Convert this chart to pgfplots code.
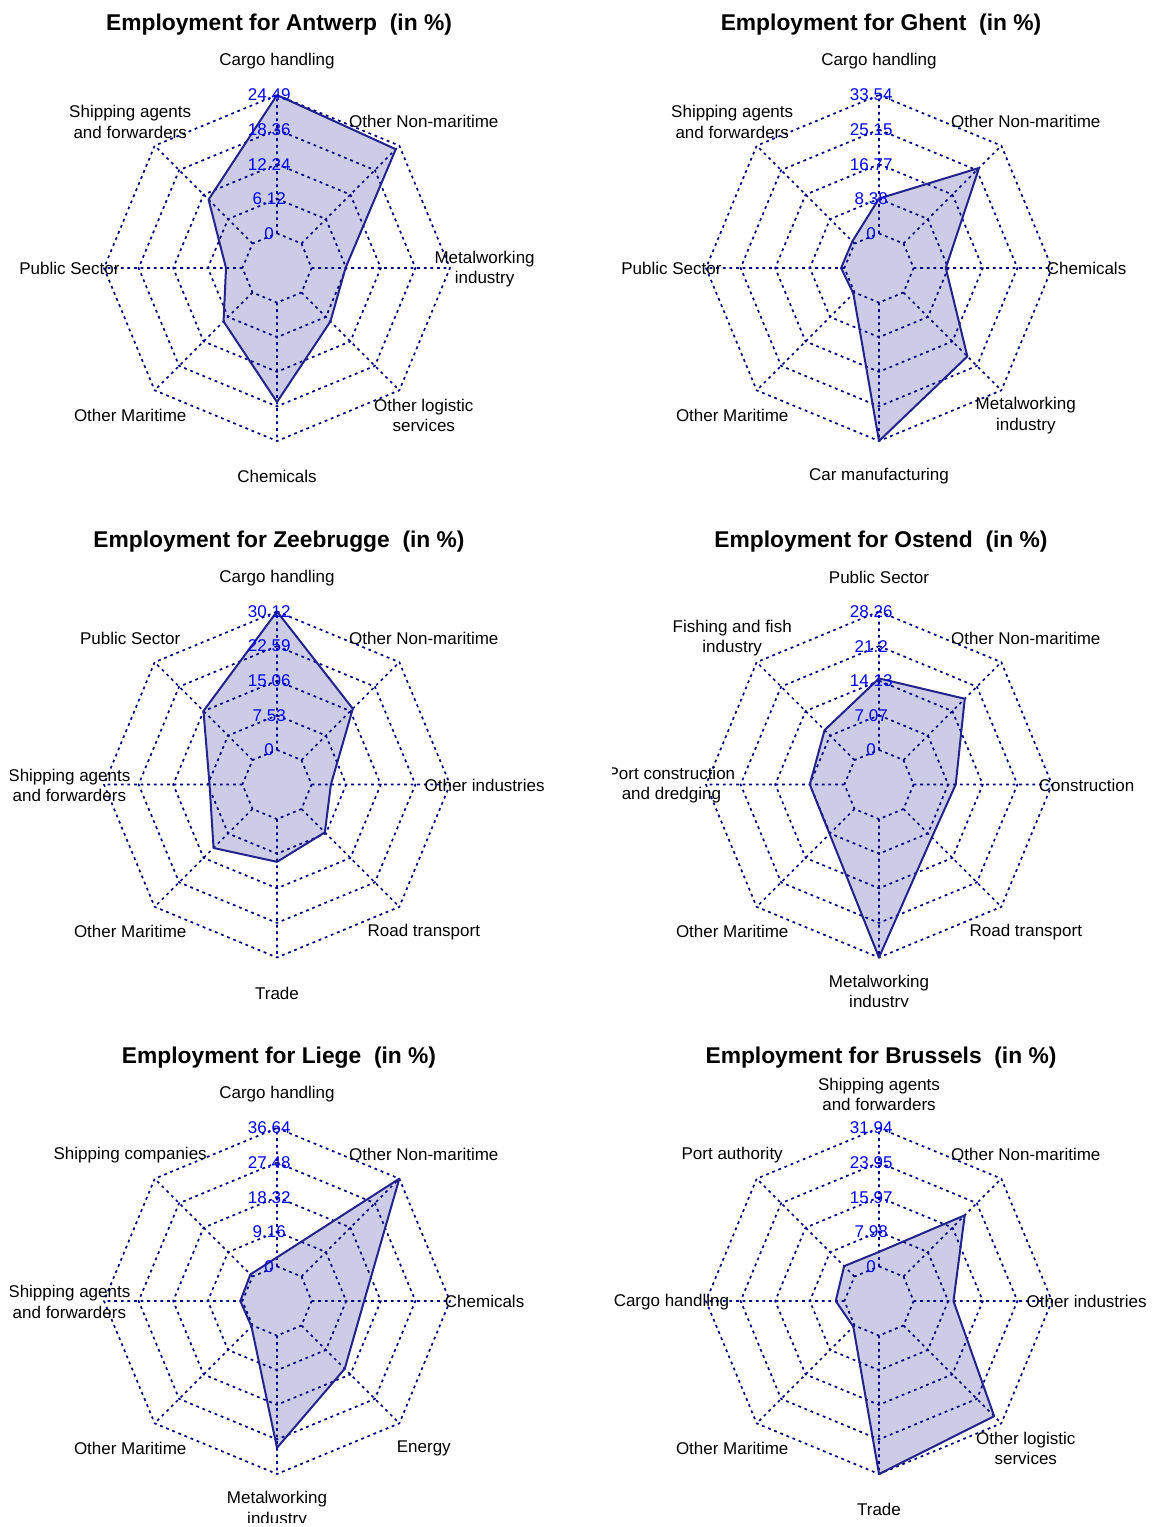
\documentclass[border=0pt]{standalone}
\usepackage{pgfplots}
\pgfplotsset{compat=1.18}
\usepackage{pgfplotstable}
\usepackage{fontspec}
\setmainfont{Liberation Sans}
\usetikzlibrary{calc}
\definecolor{gridc}{RGB}{0,0,128}
\definecolor{polyc}{RGB}{35,35,140}
\definecolor{fillc}{RGB}{204,204,230}
\definecolor{labc}{RGB}{0,0,255}

\pgfplotstableread{
x y
0 1
0.707107 0.707107
1 0
0.707107 -0.707107
0 -1
-0.707107 -0.707107
-1 0
-0.707107 0.707107
0 1
}\octo

\pgfplotstableread{
x y
0 0.2
0 1
nan nan
0.141421 0.141421
0.707107 0.707107
nan nan
0.2 0
1 0
nan nan
0.141421 -0.141421
0.707107 -0.707107
nan nan
0 -0.2
0 -1
nan nan
-0.141421 -0.141421
-0.707107 -0.707107
nan nan
-0.2 0
-1 0
nan nan
-0.141421 0.141421
-0.707107 0.707107
}\spokes

% angle (deg), value
\pgfplotstableread{
ang v
90 24.49
45 23.6
0 6.0
-45 7.25
-90 17.6
-135 7.25
180 2.9
135 11.0
90 24.49
}\antwerp
\pgfplotstableread{
ang v
90 8.45
45 25.9
0 7.8
-45 21.9
-90 33.54
-135 0.4
180 0.8
135 0.75
90 8.45
}\ghent
\pgfplotstableread{
ang v
90 30.12
45 15.8
0 4.2
-45 7.2
-90 9.3
-135 12.0
180 7.15
135 15.1
90 30.12
}\zeebrugge
\pgfplotstableread{
ang v
90 14.6
45 17.7
0 8.6
-45 8.2
-90 28.26
-135 7.2
180 7.07
135 8.65
90 14.6
}\ostend
\pgfplotstableread{
ang v
90 2.4
45 36.64
0 13.9
-45 16.2
-90 29.7
-135 0.4
180 0.55
135 0.8
90 2.4
}\liege
\pgfplotstableread{
ang v
90 3.35
45 20.0
0 9.2
-45 29.6
-90 31.94
-135 0.4
180 2.0
135 3.4
90 3.35
}\brussels

\pgfplotsset{
  radarax/.style={hide axis, x=86.5pt, y=86.5pt, xmin=-1.543, xmax=1.543,
    ymin=-1.281, ymax=1.45, anchor=origin, clip=true},
  gridl/.style={gridc, line width=0.85pt, dash pattern=on 1.4pt off 1.9pt, mark=none},
}
\tikzset{
  clab/.style={font=\fontsize{8.5}{10.2}\selectfont, align=center, inner sep=0pt, text=black},
  vlab/.style={font=\fontsize{8.5}{10.2}\selectfont, inner sep=0pt, text=labc},
  titl/.style={font=\fontsize{11.4}{13}\selectfont\bfseries, anchor=base, inner sep=0pt},
}

\newcommand\vl[5]{%
  \node[vlab] at (axis cs:-0.045,0.2) {#1};
  \node[vlab] at (axis cs:-0.045,0.4) {#2};
  \node[vlab] at (axis cs:-0.045,0.6) {#3};
  \node[vlab] at (axis cs:-0.045,0.8) {#4};
  \node[vlab] at (axis cs:-0.045,1.0) {#5};
}
\newcommand\cl[8]{%
  \node[clab] at (axis cs:0,1.195) {#1};
  \node[clab] at (axis cs:0.848528,0.845) {#2};
  \node[clab] at (axis cs:1.2,-0.005) {#3};
  \node[clab] at (axis cs:0.848528,-0.852) {#4};
  \node[clab] at (axis cs:0,-1.205) {#5};
  \node[clab] at (axis cs:-0.848528,-0.852) {#6};
  \node[clab] at (axis cs:-1.2,-0.005) {#7};
  \node[clab] at (axis cs:-0.848528,0.845) {#8};
}

\newcommand\radar[7]{%
\begin{axis}[radarax, at={(#1,#2)}]
  \addplot[draw=none, fill=fillc, mark=none] table[
    x expr={(0.2+0.8*\thisrow{v}/#4)*cos(\thisrow{ang})},
    y expr={(0.2+0.8*\thisrow{v}/#4)*sin(\thisrow{ang})}] {#3};
  \addplot[gridl] table[x expr=0.2*\thisrow{x}, y expr=0.2*\thisrow{y}] {\octo};
  \addplot[gridl] table[x expr=0.4*\thisrow{x}, y expr=0.4*\thisrow{y}] {\octo};
  \addplot[gridl] table[x expr=0.6*\thisrow{x}, y expr=0.6*\thisrow{y}] {\octo};
  \addplot[gridl] table[x expr=0.8*\thisrow{x}, y expr=0.8*\thisrow{y}] {\octo};
  \addplot[gridl] table {\octo};
  \addplot[gridl, unbounded coords=jump] table {\spokes};
  \addplot[polyc, line width=1pt, line join=round, mark=none] table[
    x expr={(0.2+0.8*\thisrow{v}/#4)*cos(\thisrow{ang})},
    y expr={(0.2+0.8*\thisrow{v}/#4)*sin(\thisrow{ang})}] {#3};
  #5
  #6
\end{axis}
\node[titl] at ($(#1,#2)+(1pt,118.6pt)$) {#7};
}

\begin{document}
\begin{tikzpicture}
\useasboundingbox (0,0) rectangle (577pt,-763.5pt);

\radar{138.5pt}{-134pt}{\antwerp}{24.49}
  {\vl{0}{6.12}{12.24}{18.36}{24.49}}
  {\cl{Cargo handling}{Other Non-maritime}{Metalworking\\industry}{Other logistic\\services}{Chemicals}{Other Maritime}{Public Sector}{Shipping agents\\and forwarders}}
  {Employment for Antwerp\ \ (in \%)}

\radar{439.5pt}{-134pt}{\ghent}{33.54}
  {\vl{0}{8.38}{16.77}{25.15}{33.54}}
  {\cl{Cargo handling}{Other Non-maritime}{Chemicals}{Metalworking\\industry}{Car manufacturing}{Other Maritime}{Public Sector}{Shipping agents\\and forwarders}}
  {Employment for Ghent\ \ (in \%)}

\radar{138.5pt}{-392.25pt}{\zeebrugge}{30.12}
  {\vl{0}{7.53}{15.06}{22.59}{30.12}}
  {\cl{Cargo handling}{Other Non-maritime}{Other industries}{Road transport}{Trade}{Other Maritime}{Shipping agents\\and forwarders}{Public Sector}}
  {Employment for Zeebrugge\ \ (in \%)}

\radar{439.5pt}{-392.25pt}{\ostend}{28.26}
  {\vl{0}{7.07}{14.13}{21.2}{28.26}}
  {\cl{Public Sector}{Other Non-maritime}{Construction}{Road transport}{Metalworking\\industry}{Other Maritime}{Port construction\\and dredging}{Fishing and fish\\industry}}
  {Employment for Ostend\ \ (in \%)}

\radar{138.5pt}{-650.5pt}{\liege}{36.64}
  {\vl{0}{9.16}{18.32}{27.48}{36.64}}
  {\cl{Cargo handling}{Other Non-maritime}{Chemicals}{Energy}{Metalworking\\industry}{Other Maritime}{Shipping agents\\and forwarders}{Shipping companies}}
  {Employment for Liege\ \ (in \%)}

\radar{439.5pt}{-650.5pt}{\brussels}{31.94}
  {\vl{0}{7.98}{15.97}{23.95}{31.94}}
  {\cl{Shipping agents\\and forwarders}{Other Non-maritime}{Other industries}{Other logistic\\services}{Trade}{Other Maritime}{Cargo handling}{Port authority}}
  {Employment for Brussels\ \ (in \%)}

\end{tikzpicture}
\end{document}
